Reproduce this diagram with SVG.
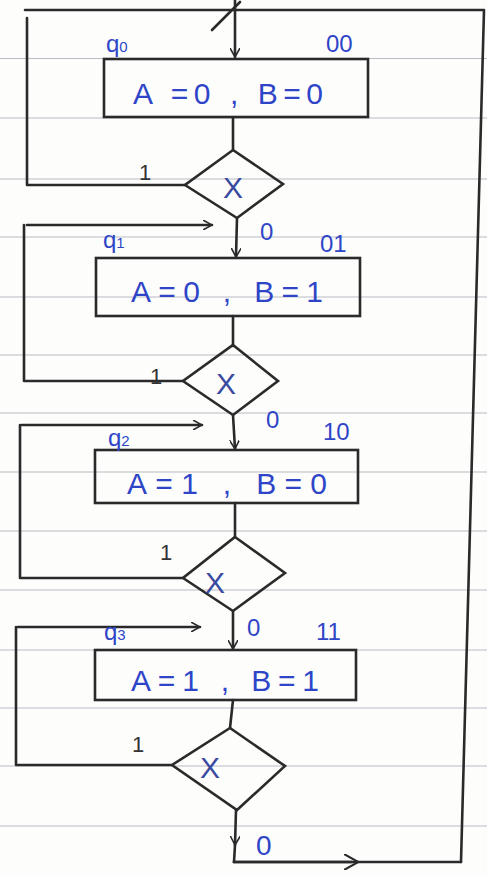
<svg xmlns="http://www.w3.org/2000/svg" width="487" height="876" viewBox="0 0 487 876">
<style>
.rule{stroke:#b9bcc4;stroke-width:1.2}
.ln{stroke:#2a2a2a;stroke-width:2.6;fill:none;stroke-linecap:round;stroke-linejoin:round}
.box{stroke:#2a2a2a;stroke-width:2.6;fill:none}
.st{font-family:"Liberation Sans",Arial,sans-serif;font-size:30px;fill:#2f45c8}
.lb{font-family:"Liberation Sans",Arial,sans-serif;font-size:24px;fill:#2f45c8}
.one{font-family:"Liberation Sans",Arial,sans-serif;font-size:22px;fill:#333}
.x{font-family:"Liberation Sans",Arial,sans-serif;font-size:30px;fill:#3a4aa0}
</style>
<defs>
<marker id="ah" viewBox="0 0 10 10" refX="9" refY="5" markerWidth="10" markerHeight="10" markerUnits="userSpaceOnUse" orient="auto">
<path d="M0,0 L9,5 L0,10" fill="none" stroke="#2a2a2a" stroke-width="1.6"/>
</marker>
<marker id="ahm" viewBox="0 0 10 10" refX="5" refY="5" markerWidth="16" markerHeight="16" markerUnits="userSpaceOnUse" orient="auto">
<path d="M0,0 L9,5 L0,10" fill="none" stroke="#2a2a2a" stroke-width="1.3"/>
</marker>
</defs>
<rect width="487" height="876" fill="#fdfdfc"/>
<g id="paper">
<line class="rule" x1="0" y1="58.5" x2="487" y2="58.5"/>
<line class="rule" x1="0" y1="118" x2="487" y2="118"/>
<line class="rule" x1="0" y1="179" x2="487" y2="179"/>
<line class="rule" x1="0" y1="237" x2="487" y2="237"/>
<line class="rule" x1="0" y1="297" x2="487" y2="297"/>
<line class="rule" x1="0" y1="355" x2="487" y2="355"/>
<line class="rule" x1="0" y1="413" x2="487" y2="413"/>
<line class="rule" x1="0" y1="472" x2="487" y2="472"/>
<line class="rule" x1="0" y1="531" x2="487" y2="531"/>
<line class="rule" x1="0" y1="590" x2="487" y2="590"/>
<line class="rule" x1="0" y1="650" x2="487" y2="650"/>
<line class="rule" x1="0" y1="708" x2="487" y2="708"/>
<line class="rule" x1="0" y1="766" x2="487" y2="766"/>
<line class="rule" x1="0" y1="826" x2="487" y2="826"/>
</g>
<g id="connectors">
<path class="ln" d="M25,10 L484,10 L461,862"/>
<path class="ln" d="M234,862 L461,862"/>
<line class="ln" x1="234" y1="862" x2="352" y2="862" marker-end="url(#ahm)"/>
<line class="ln" x1="235" y1="0" x2="235" y2="57" marker-end="url(#ah)"/>
<line class="ln" x1="212" y1="30" x2="240" y2="2"/>
<line class="ln" x1="233" y1="118" x2="233" y2="150"/>
<path class="ln" d="M185,185 L27,185 L27,18"/>
<line class="ln" x1="237" y1="218" x2="236" y2="257" marker-end="url(#ah)"/>
<line class="ln" x1="27" y1="225" x2="212" y2="225" marker-end="url(#ah)"/>
<path class="ln" d="M183,381 L24,381 L24,225"/>
<line class="ln" x1="233" y1="316" x2="233" y2="346"/>
<line class="ln" x1="233" y1="415" x2="235" y2="449" marker-end="url(#ah)"/>
<line class="ln" x1="22" y1="425" x2="202" y2="425" marker-end="url(#ah)"/>
<path class="ln" d="M183,578 L20,578 L20,425"/>
<line class="ln" x1="235" y1="503" x2="235" y2="537"/>
<line class="ln" x1="233" y1="611" x2="233" y2="649" marker-end="url(#ah)"/>
<line class="ln" x1="18" y1="627" x2="200" y2="627" marker-end="url(#ah)"/>
<path class="ln" d="M172,765 L16,765 L16,627"/>
<line class="ln" x1="233" y1="700" x2="230" y2="728"/>
<line class="ln" x1="236" y1="810" x2="235" y2="845" marker-end="url(#ah)"/>
<line class="ln" x1="235" y1="845" x2="234" y2="862"/>
</g>
<g id="q0">
<rect class="box" x="104" y="59" width="264" height="58"/>
<text class="st" x="133" y="104" textLength="190" lengthAdjust="spacing">A =0 , B=0</text>
<text class="lb" x="106" y="52">q<tspan style="font-size:15px">0</tspan></text>
<text class="lb" x="326" y="52">00</text>
</g>
<g id="d0">
<path class="box" d="M233,150 L283,184 L237,218 L185,185 Z"/>
<text class="x" x="223" y="198">X</text>
<text class="one" x="139" y="180">1</text>
<text class="lb" x="260" y="240">0</text>
</g>
<g id="q1">
<rect class="box" x="96" y="258" width="264" height="58"/>
<text class="st" x="131" y="302" textLength="192" lengthAdjust="spacing">A=0 , B=1</text>
<text class="lb" x="103" y="248">q<tspan style="font-size:15px">1</tspan></text>
<text class="lb" x="320" y="252">01</text>
</g>
<g id="d1">
<path class="box" d="M233,345 L278,381 L233,415 L183,381 Z"/>
<text class="x" x="216" y="394">X</text>
<text class="one" x="150" y="384">1</text>
<text class="lb" x="266" y="428">0</text>
</g>
<g id="q2">
<rect class="box" x="95" y="450" width="263" height="53"/>
<text class="st" x="127" y="494" textLength="200" lengthAdjust="spacing">A=1 , B=0</text>
<text class="lb" x="108" y="446">q<tspan style="font-size:15px">2</tspan></text>
<text class="lb" x="323" y="440">10</text>
</g>
<g id="d2">
<path class="box" d="M235,537 L285,573 L233,611 L183,578 Z"/>
<text class="x" x="205" y="593">X</text>
<text class="one" x="160" y="560">1</text>
<text class="lb" x="247" y="636">0</text>
</g>
<g id="q3">
<rect class="box" x="95" y="650" width="261" height="50"/>
<text class="st" x="131" y="691" textLength="188" lengthAdjust="spacing">A=1 , B=1</text>
<text class="lb" x="104" y="640">q<tspan style="font-size:15px">3</tspan></text>
<text class="lb" x="316" y="640">11</text>
</g>
<g id="d3">
<path class="box" d="M230,728 L285,766 L237,810 L172,765 Z"/>
<text class="x" x="200" y="778">X</text>
<text class="one" x="132" y="752">1</text>
<text class="lb" x="256" y="855" style="font-size:28px">0</text>
</g>
</svg>
